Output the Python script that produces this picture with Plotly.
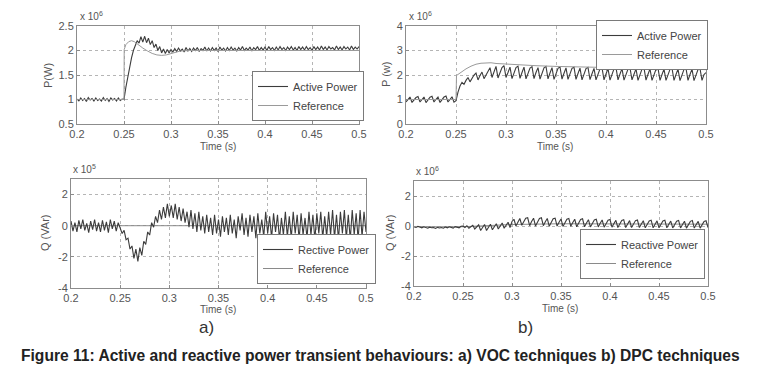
import numpy as np
import plotly.graph_objects as go

# ---------------- data ----------------
# common sampling grid for the noisy measured signals (0.2 s .. 0.5 s, 151 samples)
t_grid = np.linspace(0.2, 0.5, 151)

# a) VOC - active power (x 1e6 W)
voc_p_active = [
    1.01, 0.97, 1.03, 0.98, 1.02, 0.96, 1.04, 0.99, 1.02, 0.97, 1.03, 0.98, 1.01, 0.97, 1.04, 0.98, 1.02, 0.96, 1.03, 0.99,
    1.02, 0.97, 1.03, 0.98, 1.01,
    1.00, 1.25, 1.48, 1.68, 1.85, 2.00, 2.10, 2.20, 2.15, 2.28, 2.17, 2.29, 2.16, 2.25, 2.12, 2.20, 2.06, 2.13, 2.00, 2.08,
    1.95, 2.03, 1.94, 2.02, 1.95, 2.02,
    1.97, 2.04, 1.98, 2.05, 1.99, 2.03, 1.97, 2.06, 1.99, 2.04,
    1.98, 2.05, 2.00, 2.06, 1.98, 2.04, 2.00, 2.07, 1.99, 2.05,
    1.99, 2.06, 2.00, 2.05, 1.98, 2.07, 2.01, 2.05, 1.99, 2.06,
    2.00, 2.07, 2.01, 2.05, 1.99, 2.06, 2.01, 2.08, 2.00, 2.05,
    2.01, 2.07, 1.99, 2.06, 2.02, 2.08, 2.00, 2.06, 2.01, 2.07,
    2.00, 2.08, 2.02, 2.06, 2.00, 2.07, 2.01, 2.08, 2.02, 2.06,
    2.00, 2.07, 2.02, 2.08, 2.01, 2.06, 2.00, 2.08, 2.02, 2.07,
    2.01, 2.08, 2.02, 2.06, 2.00, 2.08, 2.02, 2.07, 2.01, 2.09,
    2.02, 2.07, 2.01, 2.08, 2.03, 2.06, 2.01, 2.09, 2.02, 2.07,
    2.01, 2.08, 2.03, 2.07, 2.01, 2.09, 2.02, 2.07, 2.03, 2.08,
]
voc_p_ref_t = [0.2, 0.25, 0.2502, 0.252, 0.255, 0.258, 0.261, 0.265, 0.27, 0.275, 0.28, 0.285, 0.29, 0.295, 0.3,
               0.305, 0.31, 0.32, 0.5]
voc_p_ref = [1.0, 1.0, 2.02, 2.12, 2.18, 2.2, 2.18, 2.12, 2.05, 1.99, 1.94, 1.91, 1.9, 1.91, 1.94,
             1.97, 1.99, 2.0, 2.0]

# b) DPC - active power (x 1e6 W)
dpc_p_active = [
    0.90, 1.00, 1.10, 0.88, 0.98, 1.08, 1.12, 0.90, 1.00, 1.10, 0.87, 0.97, 1.09, 1.13, 0.90, 1.01, 1.10, 0.88, 0.99, 1.10,
    1.14, 0.90, 1.00, 1.11, 0.89,
    0.95, 1.30, 1.55, 1.70, 1.62, 1.78, 1.90, 1.72, 1.88, 2.00, 2.08, 1.80, 1.98, 2.12, 1.85, 2.02, 2.20, 2.30, 1.90, 2.10,
    2.35, 1.88, 2.10, 2.30, 2.38, 1.90,
    2.10, 2.32, 1.85, 2.08, 2.30, 2.36, 1.86, 2.10, 2.32, 1.84,
    2.07, 2.28, 2.34, 1.85, 2.10, 2.30, 1.83, 2.06, 2.29, 2.35,
    1.84, 2.08, 2.30, 1.82, 2.05, 2.27, 2.33, 1.83, 2.07, 2.29,
    1.82, 2.05, 2.27, 2.32, 1.82, 2.06, 2.28, 1.80, 2.04, 2.26,
    2.31, 1.81, 2.05, 2.27, 1.80, 2.03, 2.25, 2.30, 1.80, 2.04,
    2.26, 1.79, 2.03, 2.25, 2.30, 1.80, 2.04, 2.26, 1.79, 2.02,
    2.24, 2.29, 1.80, 2.03, 2.25, 1.78, 2.02, 2.24, 2.29, 1.79,
    2.03, 2.25, 1.78, 2.01, 2.23, 2.28, 1.78, 2.02, 2.24, 1.78,
    2.01, 2.23, 2.28, 1.78, 2.02, 2.24, 1.77, 2.01, 2.23, 2.27,
    1.78, 2.02, 2.24, 1.77, 2.00, 2.22, 2.27, 1.78, 2.02, 2.10,
]
dpc_p_ref_t = [0.2, 0.25, 0.2505, 0.255, 0.26, 0.265, 0.27, 0.275, 0.28, 0.285, 0.29, 0.3, 0.31, 0.33, 0.35,
               0.4, 0.45, 0.5]
dpc_p_ref = [1.0, 1.0, 1.98, 2.12, 2.25, 2.36, 2.44, 2.48, 2.5, 2.5, 2.47, 2.44, 2.42, 2.38, 2.35,
             2.3, 2.26, 2.22]

# a) VOC - reactive power (x 1e5 VAr)
voc_q_reactive = [
    0.30, -0.35, 0.20, -0.40, 0.35, -0.20, 0.40, -0.30, 0.15, -0.45, 0.30, -0.25, 0.40, -0.35, 0.20, -0.40, 0.35, -0.30,
    0.25, -0.45, 0.40, -0.20, 0.30, -0.35, 0.20,
    -0.10, -0.50, -0.30, -0.90, -0.80, -1.50, -1.30, -2.10, -1.50, -2.30, -1.40, -1.90, -1.00, -1.20, -0.40, -0.60,
    0.20, -0.10, 0.60, 0.20, 1.00, 0.40, 1.20, 0.50, 1.40, 0.60,
    1.30, 0.50, 1.40, 0.40, 1.20, 0.30, 1.10, 0.20, 0.90, -0.10,
    1.00, -0.20, 0.80, -0.40, 0.90, -0.30, 0.60, -0.50, 0.70, -0.40,
    0.50, -0.60, 0.70, -0.50, 0.40, -0.70, 0.60, -0.40, 0.50, -0.60,
    0.70, -0.50, 0.40, -0.80, 0.60, -0.30, 0.80, -0.60, 0.50, -0.70,
    0.70, -0.40, 0.60, -0.80, 0.80, -0.50, 0.40, -0.70, 0.90, -0.50,
    0.60, -0.80, 0.80, -0.40, 0.70, -0.90, 0.50, -0.60, 0.90, -0.70,
    0.60, -0.80, 0.90, -0.50, 0.70, -0.90, 0.80, -0.60, 0.50, -0.80,
    0.90, -0.60, 0.70, -0.90, 0.80, -0.50, 0.90, -0.80, 0.60, -0.70,
    0.90, -0.60, 1.00, -0.80, 0.70, -0.90, 0.90, -0.50, 1.00, -0.80,
    0.70, -0.90, 1.00, -0.60, 0.80, -0.90, 1.00, -0.70, 0.90, -0.40,
]
voc_q_ref_t = [0.2, 0.5]
voc_q_ref = [0.0, 0.0]

# b) DPC - reactive power (x 1e6 VAr)
dpc_q_reactive = [
    -0.05, -0.10, -0.02, -0.08, -0.12, -0.05, -0.10, -0.15, -0.08, -0.12, -0.10, -0.16, -0.09, -0.13, -0.10, -0.15,
    -0.07, -0.12, -0.05, -0.10, -0.14, -0.04, -0.08, -0.12, -0.02,
    0.00, -0.10, 0.02, -0.15, -0.05, 0.05, -0.20, -0.05, 0.08, -0.30, -0.10, 0.10, -0.30, -0.05, 0.12, -0.25, 0.00,
    0.15, -0.20, 0.05, 0.20, -0.15, 0.10, 0.25, -0.10, 0.30,
    0.45, 0.00, 0.25, 0.50, 0.05, 0.28, 0.52, 0.55, 0.02, 0.30,
    0.52, 0.00, 0.27, 0.50, 0.55, 0.02, 0.28, 0.50, -0.02, 0.25,
    0.48, 0.52, 0.00, 0.25, 0.47, -0.03, 0.22, 0.45, 0.50, -0.02,
    0.23, 0.45, -0.05, 0.20, 0.43, 0.48, -0.05, 0.20, 0.42, -0.06,
    0.18, 0.40, 0.45, -0.06, 0.18, 0.40, -0.08, 0.17, 0.38, 0.43,
    -0.08, 0.16, 0.38, -0.10, 0.15, 0.37, 0.42, -0.10, 0.14, 0.36,
    -0.10, 0.14, 0.36, 0.40, -0.10, 0.13, 0.35, -0.12, 0.12, 0.34,
    0.39, -0.12, 0.12, 0.34, -0.12, 0.12, 0.33, 0.38, -0.12, 0.11,
    0.33, -0.13, 0.11, 0.32, 0.37, -0.13, 0.10, 0.32, -0.14, 0.10,
    0.31, 0.36, -0.14, 0.10, 0.31, -0.14, 0.10, 0.30, 0.35, -0.10,
]
dpc_q_ref_t = [0.2, 0.25, 0.3, 0.35, 0.5]
dpc_q_ref = [-0.05, -0.05, 0.1, 0.15, 0.12]

x_ticks = [0.2, 0.25, 0.3, 0.35, 0.4, 0.45, 0.5]
x_tick_text = ["0.2", "0.25", "0.3", "0.35", "0.4", "0.45", "0.5"]

# ---------------- figure ----------------
W, H = 761, 378
DARK = "#3c3c3c"
LIGHT = "#9a9a9a"
FONT = "Liberation Sans, Arial, sans-serif"
TXT = "#555555"

def px(x):
    return x / W

def py(y):
    return 1 - y / H

fig = go.Figure()

panels = [
    ("x", "y", "legend", voc_p_active, "Active Power", voc_p_ref_t, voc_p_ref, "Reference"),
    ("x2", "y2", "legend2", dpc_p_active, "Active Power", dpc_p_ref_t, dpc_p_ref, "Reference"),
    ("x3", "y3", "legend3", voc_q_reactive, "Rective Power", voc_q_ref_t, voc_q_ref, "Reference"),
    ("x4", "y4", "legend4", dpc_q_reactive, "Reactive Power", dpc_q_ref_t, dpc_q_ref, "Reference"),
]
for xa, ya, lg, meas, mname, rt, rv, rname in panels:
    if lg in ("legend", "legend2"):
        fig.add_trace(go.Scatter(x=t_grid, y=meas, mode="lines", name=mname, xaxis=xa, yaxis=ya, legend=lg,
                                 line=dict(color=DARK, width=1.1)))
        fig.add_trace(go.Scatter(x=rt, y=rv, mode="lines", name=rname, xaxis=xa, yaxis=ya, legend=lg,
                                 line=dict(color=LIGHT, width=1)))
    else:
        fig.add_trace(go.Scatter(x=rt, y=rv, mode="lines", name=rname, xaxis=xa, yaxis=ya, legend=lg,
                                 line=dict(color="#8a8a8a", width=1), showlegend=False))
        fig.add_trace(go.Scatter(x=t_grid, y=meas, mode="lines", name=mname, xaxis=xa, yaxis=ya, legend=lg,
                                 line=dict(color=DARK, width=1.1)))
        fig.add_trace(go.Scatter(x=[None], y=[None], mode="lines", name=rname, xaxis=xa, yaxis=ya, legend=lg,
                                 line=dict(color="#8a8a8a", width=1)))

# plot area boxes (pixels)
boxes = {
    1: (77, 359, 26, 124),
    2: (406, 706, 26, 124),
    3: (71, 366, 179, 288),
    4: (414, 708, 181, 286),
}
yranges = {1: [0.5, 2.5], 2: [0, 4], 3: [-4, 3], 4: [-4, 3]}
yticks = {1: [0.5, 1, 1.5, 2, 2.5], 2: [0, 1, 2, 3, 4], 3: [-4, -2, 0, 2], 4: [-4, -2, 0, 2]}
yticktext = {1: ["0.5", "1", "1.5", "2", "2.5"], 2: ["0", "1", "2", "3", "4"],
             3: ["-4", "-2", "0", "2"], 4: ["-4", "-2", "0", "2"]}

axis_common = dict(showline=True, linecolor="#8c8c8c", linewidth=1, mirror=True,
                   showgrid=True, gridcolor="#b5b5b5", griddash="dot", gridwidth=1,
                   zeroline=False, ticks="inside", ticklen=3, tickcolor="#8c8c8c",
                   tickfont=dict(family=FONT, size=11, color=TXT), automargin=False)

layout = {}
for i, (l, r, t, b) in boxes.items():
    suf = "" if i == 1 else str(i)
    layout["xaxis" + suf] = dict(domain=[px(l), px(r)], anchor="y" + suf, range=[0.2, 0.5],
                                 tickvals=x_ticks, ticktext=x_tick_text, **axis_common)
    layout["yaxis" + suf] = dict(domain=[py(b), py(t)], anchor="x" + suf, range=yranges[i],
                                 tickvals=yticks[i], ticktext=yticktext[i], **axis_common)

legend_common = dict(bgcolor="white", bordercolor="#7a7a7a", borderwidth=1,
                     font=dict(family=FONT, size=11, color="#444444"),
                     xanchor="left", yanchor="bottom", tracegroupgap=0, itemwidth=30)
layout["legend"] = dict(x=px(252), y=py(121), **legend_common)
layout["legend2"] = dict(x=px(596), y=py(70), **legend_common)
layout["legend3"] = dict(x=px(257), y=py(284), **legend_common)
layout["legend4"] = dict(x=px(580), y=py(279), **legend_common)

ann = []
def text(x, y, s, size=10, angle=0, xanchor="center", yanchor="middle", color=TXT, family=FONT):
    ann.append(dict(x=px(x), y=py(y), xref="paper", yref="paper", text=s, showarrow=False,
                    textangle=angle, xanchor=xanchor, yanchor=yanchor,
                    font=dict(family=family, size=size, color=color)))

# exponent labels
text(78, 24, "x 10<sup>6</sup>", xanchor="left", yanchor="bottom")
text(407, 24, "x 10<sup>6</sup>", xanchor="left", yanchor="bottom")
text(71, 177, "x 10<sup>5</sup>", xanchor="left", yanchor="bottom")
text(414, 179, "x 10<sup>6</sup>", xanchor="left", yanchor="bottom")
# y titles
text(48, 75, "P(W)", size=11, angle=-90)
text(386, 75, "P (w)", size=11, angle=-90)
text(45, 233, "Q (VAr)", size=11, angle=-90)
text(390, 233, "Q (VAr)", size=11, angle=-90)
# x titles
text(218, 146, "Time (s)", size=10)
text(555, 146, "Time (s)", size=10)
text(218, 309, "Time (s)", size=10)
text(560, 308, "Time (s)", size=10)
# sub captions
text(206, 327, "a)", size=17, color="#333333")
text(525, 327, "b)", size=17, color="#333333")
# figure caption
text(380.5, 355, "<b>Figure 11: Active and reactive power transient behaviours: a) VOC techniques b) DPC techniques</b>",
     size=15.6, color="#222222")

layout["annotations"] = ann

fig.update_layout(width=W, height=H, autosize=False, margin=dict(l=0, r=0, t=0, b=0),
                  paper_bgcolor="white", plot_bgcolor="white", **layout)

fig.write_html("out.html", config={"displayModeBar": False},
               post_script="document.body.style.margin='0';")
